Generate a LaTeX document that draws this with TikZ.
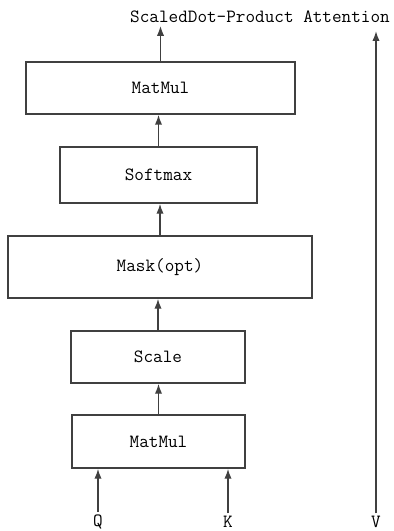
\documentclass[tikz,border=0pt]{standalone}
\usetikzlibrary{arrows.meta}
\newcommand{\px}{0.75pt}
\begin{document}
\begin{tikzpicture}[x=\px, y=-\px, >={Latex[length=7.5pt, width=5.5pt]},
    blk/.style={draw=black!75, line width=1.1pt, fill=white, inner sep=0pt, font=\ttfamily\fontsize{14}{16}\selectfont},
    lbl/.style={inner sep=2pt, font=\ttfamily\fontsize{14}{16}\selectfont},
    flow/.style={->, draw=black!75, line width=1.1pt}]
  \useasboundingbox (0,0) rectangle (393,531);
  % Blocks from top to bottom
  \node[blk, minimum width=269*\px, minimum height=52*\px] (mmtop) at (160.5,88) {MatMul};
  \node[blk, minimum width=197*\px, minimum height=56*\px] (soft) at (158.5,175) {Softmax};
  \node[blk, minimum width=304*\px, minimum height=62*\px] (mask) at (160,267) {Mask(opt)};
  \node[blk, minimum width=174*\px, minimum height=52*\px] (scale) at (158,357) {Scale};
  \node[blk, minimum width=173*\px, minimum height=53*\px] (mmbot) at (158.5,441.5) {MatMul};

  % Inputs and output
  \node[lbl] (q) at (98,522) {Q};
  \node[lbl] (k) at (228,522) {K};
  \node[lbl] (v) at (376,522) {V};
  \node[lbl] (title) at (260,17) {ScaledDot-Product Attention};
  \coordinate (vtop) at (376,31);

  % Connections
  \draw[flow] (q.north) -- (q.north |- mmbot.south);
  \draw[flow] (k.north) -- (k.north |- mmbot.south);
  \draw[flow] (mmbot.north) -- (mmbot.north |- scale.south);
  \draw[flow] (scale.north) -- (scale.north |- mask.south);
  \draw[flow] (mask.north) -- (mask.north |- soft.south);
  \draw[flow] (soft.north) -- (soft.north |- mmtop.south);
  \draw[flow] (mmtop.north) -- (mmtop.north |- title.south);
  \draw[flow] (v.north) -- (vtop);
\end{tikzpicture}
\end{document}
